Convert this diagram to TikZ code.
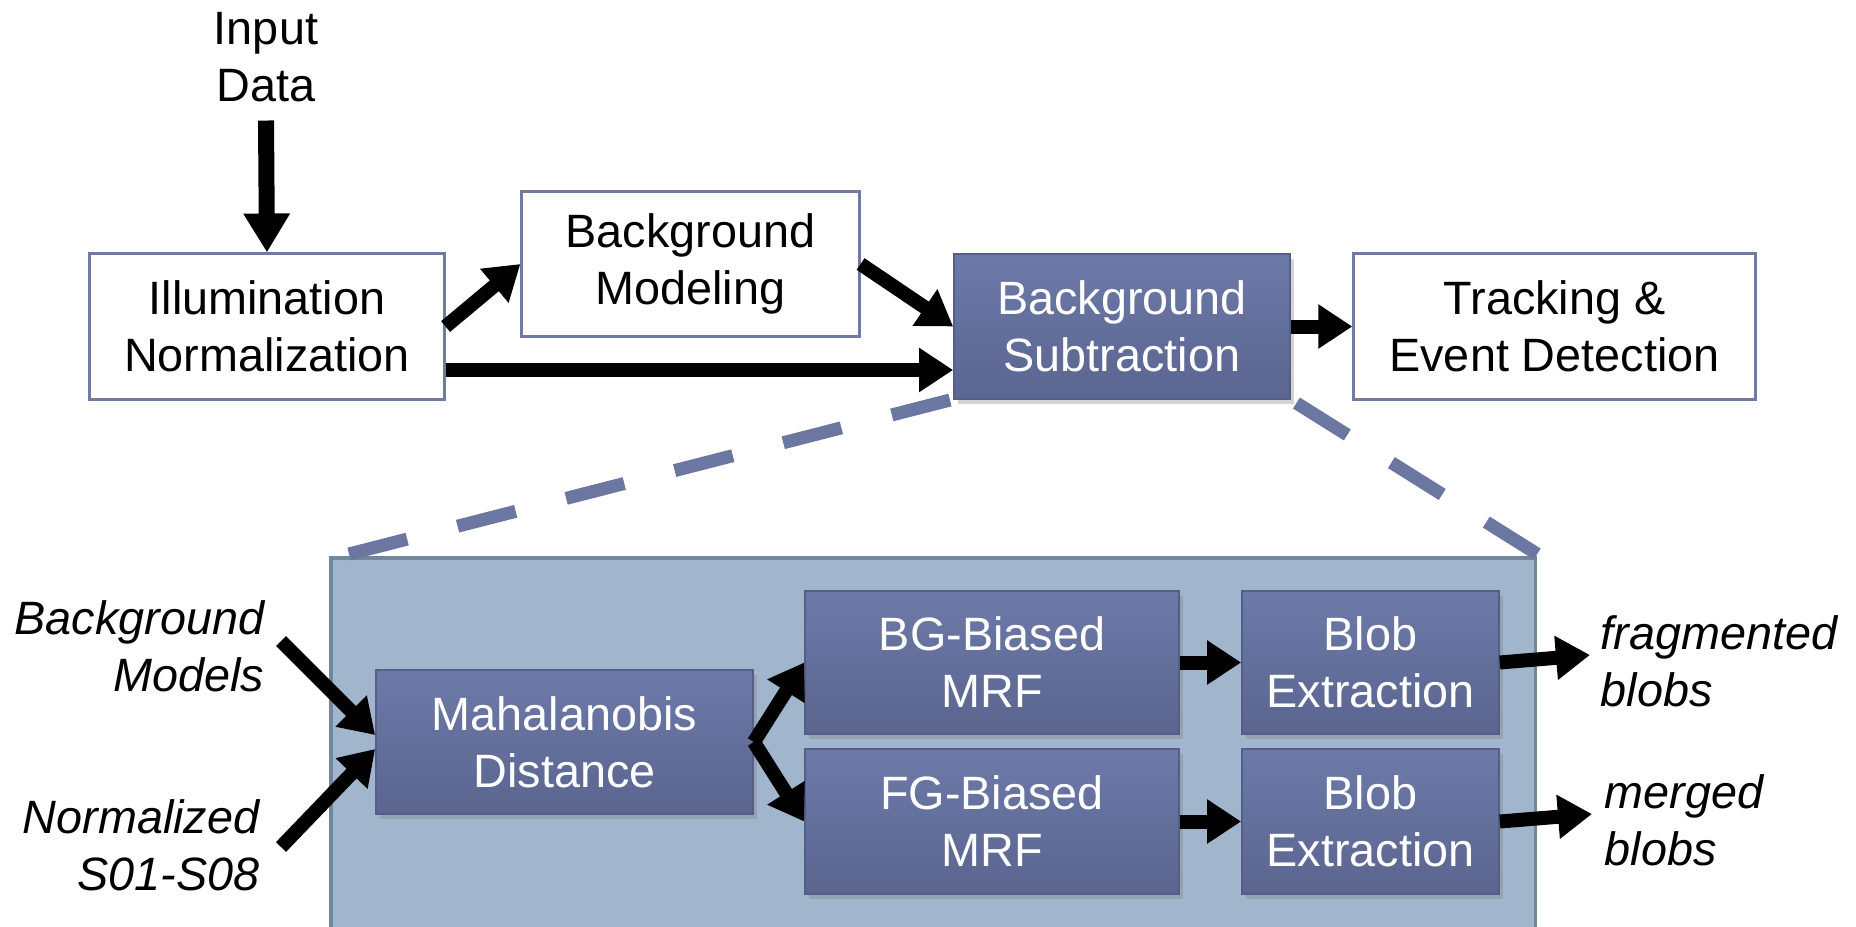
\documentclass[tikz,border=0pt]{standalone}
\usepackage{fontspec}
\setmainfont{Liberation Sans}
\usetikzlibrary{arrows.meta,calc,shadows}

\definecolor{boxedge}{HTML}{6F7BA0}
\definecolor{darktop}{HTML}{6D79A7}
\definecolor{darkbot}{HTML}{5A6590}
\definecolor{darkedge}{HTML}{545E87}
\definecolor{panelfill}{HTML}{A1B6CC}
\definecolor{paneledge}{HTML}{72889A}
\definecolor{dashcol}{HTML}{6B77A0}

\begin{document}
\begin{tikzpicture}[x=0.01cm,y=-0.01cm,
  every node/.style={font=\fontsize{13.3}{16.2}\selectfont, align=center, inner sep=0pt},
  whitebox/.style={rectangle, draw=boxedge, line width=0.03cm, fill=white},
  darkbox/.style={rectangle, draw=darkedge, line width=0.015cm, top color=darktop, bottom color=darkbot,
    text=white, drop shadow={opacity=0.35, shadow xshift=1.2pt, shadow yshift=-1.5pt}},
  panelbox/.style={rectangle, draw=paneledge, line width=0.035cm, fill=panelfill},
  lbl/.style={font=\fontsize{13.3}{16.2}\selectfont\itshape},
  flow/.style={line width=0.14cm, -{Triangle[length=0.34cm, width=0.42cm]}},
  zoomline/.style={draw=dashcol, line width=0.13cm, dash pattern=on 0.6cm off 0.52cm}]

\useasboundingbox (0,0) rectangle (1856,926);
\clip (0,0) rectangle (1856,926);

% ---------- top-level pipeline ----------
\node (input) at (266,57) {Input\\Data};
\node[whitebox, minimum width=3.54cm, minimum height=1.45cm] (illum) at (267,326.5) {Illumination\\Normalization};
\node[whitebox, minimum width=3.37cm, minimum height=1.44cm] (bgmod) at (690.5,264) {Background\\Modeling};
\node[whitebox, minimum width=4.01cm, minimum height=1.45cm] (track) at (1554.5,326.5) {Tracking \&\\Event Detection};

% ---------- expanded view of background subtraction ----------
\node[panelbox, minimum width=12.04cm, minimum height=4.1cm, anchor=north west] (panel) at (329,556) {};

\draw[zoomline] ($(panel.north west)+(20,-2)$) -- (954,399);
\draw[zoomline] ($(panel.north east)+(0,-2)$) -- (1290,399);

\node[darkbox, minimum width=3.36cm, minimum height=1.45cm] (bgsub) at (1122,326.5) {Background\\Subtraction};

\node[darkbox, minimum width=3.77cm, minimum height=1.44cm] (maha) at (564.5,742) {Mahalanobis\\Distance};
\node[darkbox, minimum width=3.74cm, minimum height=1.43cm] (bgmrf) at (992,662.5) {BG-Biased\\MRF};
\node[darkbox, minimum width=3.74cm, minimum height=1.45cm] (fgmrf) at (992,821.5) {FG-Biased\\MRF};
\node[darkbox, minimum width=2.57cm, minimum height=1.43cm] (blobA) at (1370.5,662.5) {Blob\\Extraction};
\node[darkbox, minimum width=2.57cm, minimum height=1.45cm] (blobB) at (1370.5,821.5) {Blob\\Extraction};

% ---------- side labels ----------
\node[lbl, align=right, anchor=east] (bgmodels) at (265,646) {Background\\Models};
\node[lbl, align=right, anchor=east] (normin) at (260,845) {Normalized\\S01-S08};
\node[lbl, align=left, anchor=west] (frag) at (1600,661) {fragmented\\blobs};
\node[lbl, align=left, anchor=west] (merged) at (1604,820) {merged\\blobs};

\coordinate (bmtail) at (281,641);
\coordinate (nstail) at (281,847);

% ---------- connectors ----------
\draw[line width=0.16cm, -{Triangle[length=0.39cm, width=0.44cm]}] ($(input.south)+(0,18)$) -- (illum.north);
\draw[flow] (illum.east) -- (bgmod.west);
\draw[flow] (bgmod.east) -- (bgsub.west);
\draw[flow] ($(illum.east)+(0,43.5)$) -- ($(bgsub.west)+(0,43.5)$);
\draw[flow] (bgsub.east) -- (track.west);

\draw[flow] (bmtail) -- ($(maha.west)+(0,-7)$);
\draw[flow] (nstail) -- ($(maha.west)+(0,7)$);
\draw[flow] (maha.east) -- (bgmrf.west);
\draw[flow] (maha.east) -- (fgmrf.west);
\draw[flow] (bgmrf.east) -- (blobA.west);
\draw[flow] (fgmrf.east) -- (blobB.west);
\draw[flow] (blobA.east) -- ($(frag.west)+(-10,-6)$);
\draw[flow] (blobB.east) -- ($(merged.west)+(-12,-6)$);

\end{tikzpicture}
\end{document}
